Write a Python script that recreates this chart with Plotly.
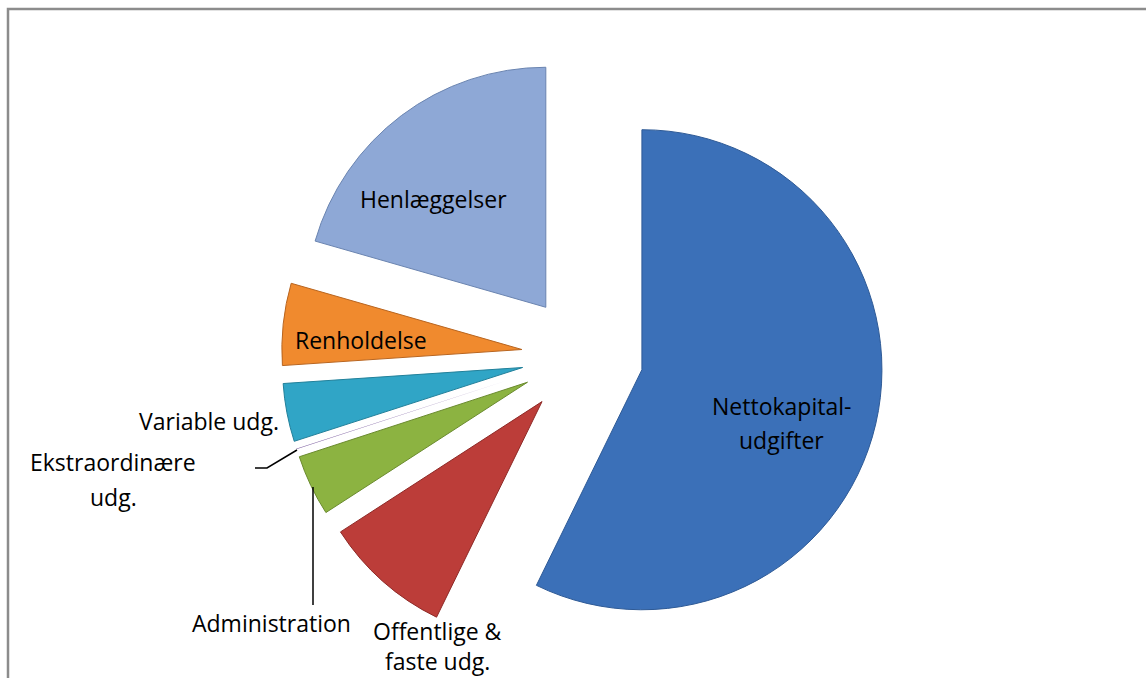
import plotly.graph_objects as go

# Data (clockwise from 12 o'clock)
categories = ["Nettokapitaludgifter", "Offentlige & faste udg.", "Administration",
              "Ekstraordinære udg.", "Variable udg.", "Renholdelse", "Henlæggelser"]
values = [57.1, 8.6, 4.1, 0.05, 3.9, 5.5, 20.5]
colors = ["#3B70B8", "#BC3D39", "#8CB341", "#7D5FA0", "#30A5C6", "#F08A2E", "#8EA8D6"]
edge_colors = ["#2E5A96", "#8E2A27", "#6A8A2E", "#7D5FA0", "#22809A", "#B86520", "#6A84B0"]
edge_widths = [1, 1, 1, 0, 1, 1, 1]
pulls = [0.254] * len(values)

W, H = 1146, 678
FONT = "Open Sans"
FS = 23

fig = go.Figure(go.Pie(
    labels=categories,
    values=values,
    sort=False,
    direction="clockwise",
    rotation=0,
    pull=pulls,
    marker=dict(colors=colors, line=dict(color=edge_colors, width=edge_widths)),
    textinfo="none",
    hoverinfo="skip",
    showlegend=False,
    domain=dict(x=[0.0166, 1.0], y=[0.031, 0.9189]),
))

def px(x):
    return x / W

def py(y):
    return 1 - y / H

labels_pos = [
    ("Henlæggelser", 433, 199),
    ("Renholdelse", 361, 340),
    ("Nettokapital-", 781, 406),
    ("udgifter", 781, 440),
    ("Variable udg.", 209, 421),
    ("Ekstraordinære", 113, 462),
    ("udg.", 113, 497),
    ("Administration", 271, 623),
    ("Offentlige &", 437, 631),
    ("faste udg.", 437, 661),
]
annotations = [
    dict(text=t, x=px(x), y=py(y), xref="paper", yref="paper",
         showarrow=False, xanchor="center", yanchor="middle",
         font=dict(family=FONT, size=FS, color="#000000"))
    for t, x, y in labels_pos
]

shapes = [
    # chart border (cropped at right and bottom)
    dict(type="rect", xref="paper", yref="paper",
         x0=px(8), y0=-0.05, x1=1.05, y1=py(9),
         line=dict(color="#8C8C8C", width=2.5), fillcolor="rgba(0,0,0,0)"),
    # leader line: Ekstraordinære udg.
    dict(type="path", xref="paper", yref="paper",
         path=f"M {px(255)},{py(468)} L {px(267)},{py(468)} L {px(297)},{py(450)}",
         line=dict(color="#000000", width=1.5)),
    # leader line: Administration
    dict(type="line", xref="paper", yref="paper",
         x0=px(313), y0=py(487), x1=px(313), y1=py(605),
         line=dict(color="#000000", width=1.5)),
]

fig.update_layout(
    width=W, height=H,
    margin=dict(l=0, r=0, t=0, b=0),
    paper_bgcolor="#FFFFFF",
    plot_bgcolor="#FFFFFF",
    annotations=annotations,
    shapes=shapes,
    font=dict(family=FONT),
)

fig.write_html("out.html",
               config={"displayModeBar": False},
               post_script="document.body.style.margin='0';document.body.style.overflow='hidden';")
